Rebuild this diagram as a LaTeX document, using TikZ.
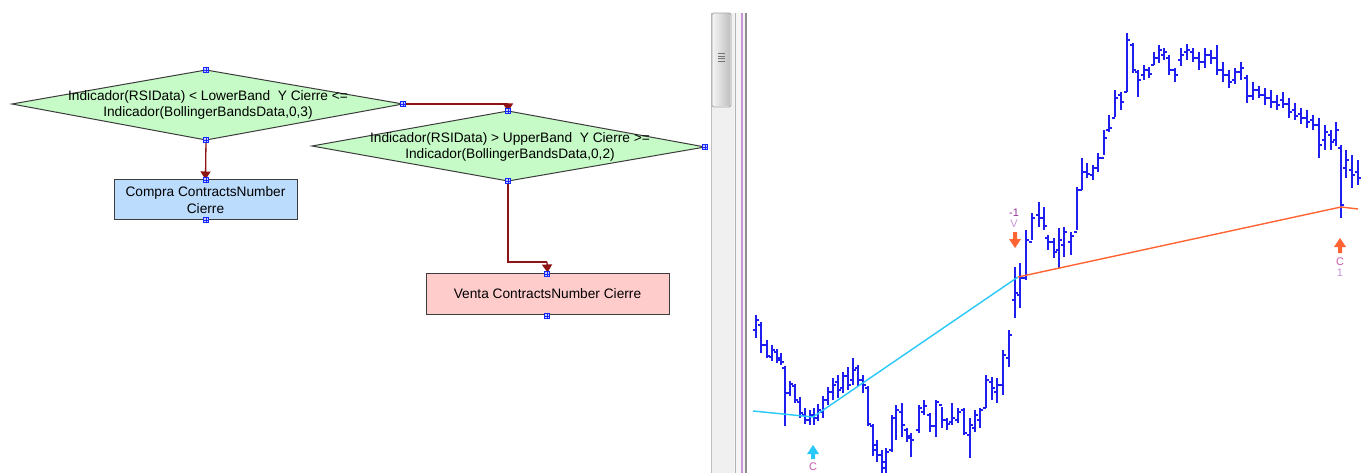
\documentclass[tikz,border=0pt]{standalone}
\usepackage{fontspec}
\setmainfont{Liberation Sans}
\usetikzlibrary{arrows.meta}
\definecolor{dgreen}{RGB}{198,250,198}
\definecolor{dblue}{RGB}{187,220,252}
\definecolor{dpink}{RGB}{255,204,204}
\definecolor{connred}{RGB}{140,20,20}
\definecolor{outl}{RGB}{60,60,60}
\definecolor{portblue}{RGB}{20,40,255}
\definecolor{barblue}{RGB}{30,30,240}
\definecolor{lcyan}{RGB}{40,200,250}
\definecolor{lorange}{RGB}{255,100,50}
\definecolor{lblpurple}{RGB}{150,50,150}
\definecolor{lbllight}{RGB}{200,150,215}
\definecolor{lblpink}{RGB}{200,90,170}
\begin{document}
\begin{tikzpicture}[x=1pt,y=-1pt,
  shapetext/.style={font=\fontsize{13.7}{16.5}\selectfont, align=center, inner sep=0pt, text=black},
  decision/.style={fill=dgreen, draw=outl, line width=1pt},
  action/.style={draw=outl, line width=1pt, shapetext, inner sep=0pt},
  port/.style={draw=portblue, fill=blue!20, line width=0.8pt, minimum size=5.5pt, inner sep=0pt, shape=rectangle,
    path picture={\draw[portblue,line width=0.5pt] (path picture bounding box.north) -- (path picture bounding box.south) (path picture bounding box.west) -- (path picture bounding box.east);}},
  conn/.style={draw=connred, line width=1.3pt, -{Triangle[width=10pt,length=8pt]}},
  plainconn/.style={draw=connred, line width=1.3pt},
  bar/.style={draw=barblue, line width=1.7pt},
  lbl/.style={font=\fontsize{11}{11}\selectfont, inner sep=0pt}
]
\useasboundingbox (0,0) rectangle (1365,473);
\fill[white] (0,0) rectangle (1365,473);

% ---------- flowchart ----------
% decision 1
\path[decision] (12,104) -- (206,70) -- (403,104) -- (206,140) -- cycle;
\node[shapetext] (d1txt) at (208,105) {Indicador(RSIData) < LowerBand\ \ Y Cierre <=\\Indicador(BollingerBandsData,0,3)};
% decision 2
\path[decision] (312,146) -- (508,111) -- (705,147) -- (508,181) -- cycle;
\node[shapetext] (d2txt) at (510,147) {Indicador(RSIData) > UpperBand\ \ Y Cierre >=\\Indicador(BollingerBandsData,0,2)};

% action boxes
\node[action, fill=dblue, minimum width=183pt, minimum height=40pt] (compra) at (205.5,200) {Compra ContractsNumber\\Cierre};
\node[action, fill=dpink, minimum width=243pt, minimum height=41pt] (venta) at (547.5,293.5) {Venta ContractsNumber Cierre};

% connectors
\coordinate (bend1) at (508,104);
\coordinate (bend2) at (547,262);
\draw[plainconn] (403,104) -- (bend1);
\draw[conn] (bend1) -- (508,111.5);
\draw[conn] (206,140) -- (compra.north);
\draw[plainconn] (508,181) |- (bend2);
\draw[conn] (bend2) -- (venta.north);

% ports
\node[port] (p1t) at (206,70) {};
\node[port] (p1r) at (403,104) {};
\node[port] (p1b) at (206,140) {};
\node[port] (p2t) at (508,111) {};
\node[port] (p2r) at (705,147) {};
\node[port] (p2b) at (508,181) {};
\node[port] (cbt) at (206,180) {};
\node[port] (cbb) at (206,220) {};
\node[port] (vbt) at (547,274) {};
\node[port] (vbb) at (547,316) {};

% ---------- scrollbar / divider ----------
\fill[black!6] (711,13) rectangle (734,473);
\draw[black!25, line width=0.6pt] (711,13) -- (711,473);
\shade[left color=black!5, right color=black!25] (713,14) rectangle (730,106);
\draw[black!35, line width=0.8pt, rounded corners=1.5pt] (712,13) rectangle (731,107);
\foreach \gy in {53.5,56,58.5,61} \draw[black!55, line width=0.8pt] (718,\gy) -- (725,\gy);
\fill[black!4] (734,13) rectangle (747,473);
\draw[black!30, line width=0.8pt] (735,13) -- (735,473);
\draw[lbllight, line width=1.4pt] (742,13) -- (742,473);
\draw[black!45, line width=1.5pt] (746,13) -- (746,473);

% ---------- price chart ----------
\foreach \x/\h/\l/\o/\c in {
756/315/338/330/320, 761/322/353/325/345, 767/340/358/345/356, 772/345/361/357/350,
777/349/363/352/360, 781/353/365/358/362, 785/366/426/368/393, 790/381/396/393/384,
795/384/403/386/400, 800/397/418/402/413, 805/408/424/415/420, 810/410/425/420/415,
814/408/425/415/418, 818/404/421/418/410, 823/396/418/412/400, 828/387/405/400/392,
833/378/400/392/385, 838/375/398/382/390, 843/372/393/388/376, 848/367/390/376/385,
853/358/385/380/370, 858/365/386/368/380, 863/375/393/380/385, 868/386/426/388/424,
873/424/456/426/450, 877/440/462/445/455, 882/450/473/455/468, 886/448/473/462/452,
892/415/452/450/418, 896/405/440/418/410, 902/403/437/412/425, 907/428/442/430/438,
911/433/457/436/440, 919/405/433/430/408, 924/400/415/412/406, 930/413/432/415/426,
936/400/437/426/402, 942/407/428/405/420, 947/418/430/420/424, 952/403/425/422/418,
958/408/423/420/412, 964/408/435/410/433, 970/418/458/435/425, 975/410/432/428/415,
980/408/428/420/410, 986/375/408/408/380, 992/377/400/382/388, 997/378/403/392/385,
1003/350/395/385/355, 1009/330/367/358/335, 1015/267/318/300/293, 1020/263/308/295/278,
1026/230/280/278/240, 1032/213/240/242/218, 1039/202/227/215/218, 1044/207/230/218/226,
1048/235/250/238/242, 1054/238/258/242/252, 1059/228/268/250/240, 1064/227/257/245/232,
1071/232/255/242/236, 1077/187/230/232/190, 1082/158/190/190/172, 1087/163/178/172/174,
1093/165/180/175/168, 1098/153/172/168/158, 1104/130/155/158/138, 1109/115/132/130/128,
1115/90/117/118/98, 1121/92/110/95/102, 1127/33/92/92/40, 1133/43/73/45/70,
1138/70/97/72/80, 1144/65/80/75/70, 1149/67/78/70/74, 1154/52/65/65/58,
1159/45/63/58/50, 1164/48/60/55/52, 1169/55/75/58/70, 1175/68/82/70/75,
1181/48/66/60/55, 1187/44/60/52/50, 1193/48/62/52/58, 1199/52/70/58/62,
1205/48/68/62/55, 1211/50/64/55/58, 1217/45/75/58/70, 1223/62/82/70/75,
1229/70/88/75/82, 1235/68/84/80/72, 1241/62/80/72/68, 1247/75/103/78/96,
1253/82/100/96/90, 1259/86/98/90/95, 1265/88/105/95/98, 1271/90/108/98/102,
1277/95/110/102/105, 1283/92/108/100/104, 1289/98/118/104/112, 1295/103/120/110/116,
1301/108/124/114/118, 1307/110/128/118/122, 1313/115/130/120/125, 1319/118/158/125/145,
1325/125/150/140/132, 1331/130/150/135/142, 1336/122/146/140/130, 1341/145/218/148/205,
1346/150/178/168/160, 1352/155/188/170/175, 1358/160/185/172/178}
{
  \draw[bar] (\x,\h) -- (\x,\l);
  \draw[bar] (\x-2.6,\o) -- (\x,\o);
  \draw[bar] (\x,\c) -- (\x+2.6,\c);
}

% trend lines
\coordinate (cs) at (753,411);
\coordinate (cb) at (813,417);
\coordinate (cross) at (1018,277);
\coordinate (ob) at (1341,207);
\coordinate (oe) at (1358,209);
\draw[lcyan, line width=1.4pt] (cs) -- (cb) -- (cross);
\draw[lorange, line width=1.4pt] (cross) -- (ob) -- (oe);

% signal arrows
\fill[lcyan] (813,445) -- (819,454) -- (815,454) -- (815,459) -- (811,459) -- (811,454) -- (807,454) -- cycle;
\fill[lorange] (1013,232) -- (1017,232) -- (1017,239) -- (1021,239) -- (1015,248) -- (1009,239) -- (1013,239) -- cycle;
\fill[lorange] (1340,238) -- (1346,247) -- (1342,247) -- (1342,253) -- (1338,253) -- (1338,247) -- (1334,247) -- cycle;

% signal labels
\node[lbl, text=lblpurple] (lm1) at (1014,213) {-1};
\node[lbl, text=lbllight] (lv) at (1014,224) {V};
\node[lbl, text=lblpink] (lc1) at (1340,262) {C};
\node[lbl, text=lbllight] (l1) at (1340,273) {1};
\node[lbl, text=lblpink] (lc0) at (813,467) {C};
\end{tikzpicture}
\end{document}
